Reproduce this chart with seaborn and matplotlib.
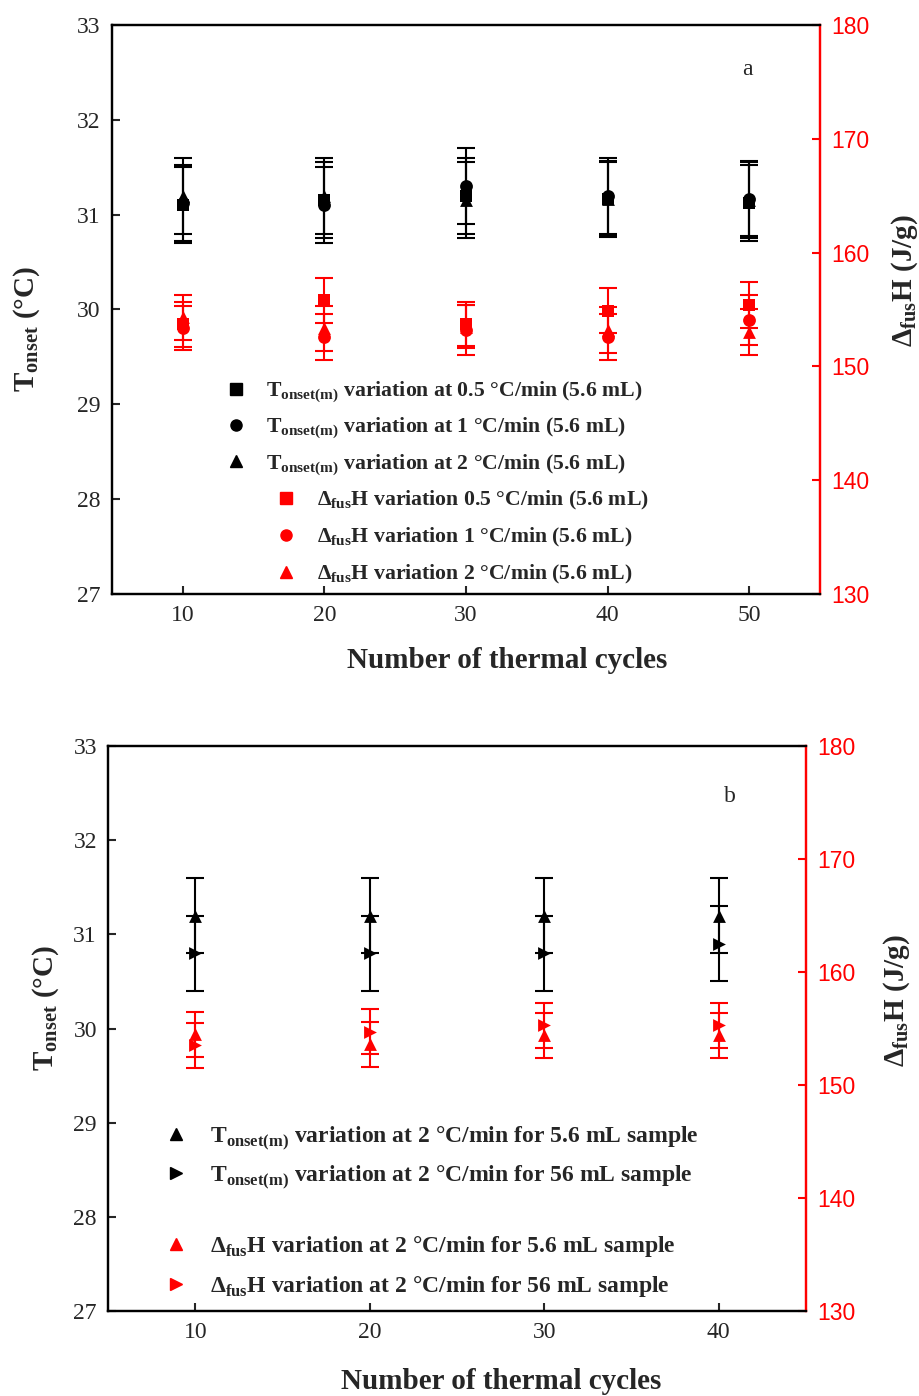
import numpy as np
import pandas as pd
import matplotlib
matplotlib.use("Agg")
import matplotlib.pyplot as plt
import seaborn as sns
from matplotlib.lines import Line2D

# Panel a: 5.6 mL sample, three heating rates
cycles_a = [10, 20, 30, 40, 50]
t_a_05 = [31.10, 31.15, 31.20, 31.16, 31.12]
t_a_1 = [31.12, 31.10, 31.30, 31.20, 31.17]
t_a_2 = [31.20, 31.20, 31.15, 31.17, 31.15]
t_a_err = [0.40, 0.40, 0.40, 0.40, 0.40]
h_a_05 = [153.7, 155.8, 153.7, 154.9, 155.4]
h_a_1 = [153.4, 152.6, 153.2, 152.6, 154.1]
h_a_2 = [154.3, 153.35, 153.5, 153.2, 153.0]
h_a_05_err = [2.0, 2.0, 1.95, 2.0, 2.0]
h_a_1_err = [1.95, 2.0, 2.2, 2.0, 2.2]
h_a_2_err = [2.0, 2.0, 1.9, 2.0, 2.0]

# Panel b: 2 C/min, 5.6 mL vs 56 mL sample
cycles_b = [10, 20, 30, 40]
t_b_small = [31.2, 31.2, 31.2, 31.2]
t_b_large = [30.8, 30.8, 30.8, 30.9]
t_b_err = [0.4, 0.4, 0.4, 0.4]
h_b_small = [154.5, 153.6, 154.4, 154.4]
h_b_large = [153.5, 154.7, 155.3, 155.3]
h_b_err = [2.0, 2.0, 2.0, 2.0]

labels_a = [r"T$_{\mathbf{onset(m)}}$ variation at 0.5 °C/min (5.6 mL)",
            r"T$_{\mathbf{onset(m)}}$ variation at 1 °C/min (5.6 mL)",
            r"T$_{\mathbf{onset(m)}}$ variation at 2 °C/min (5.6 mL)",
            r"Δ$_{\mathbf{fus}}$H variation 0.5 °C/min (5.6 mL)",
            r"Δ$_{\mathbf{fus}}$H variation 1 °C/min (5.6 mL)",
            r"Δ$_{\mathbf{fus}}$H variation 2 °C/min (5.6 mL)"]
labels_b = [r"T$_{\mathbf{onset(m)}}$ variation at 2 °C/min for 5.6 mL sample",
            r"T$_{\mathbf{onset(m)}}$ variation at 2 °C/min for 56 mL sample",
            r"Δ$_{\mathbf{fus}}$H variation at 2 °C/min for 5.6 mL sample",
            r"Δ$_{\mathbf{fus}}$H variation at 2 °C/min for 56 mL sample"]

sns.set_theme(style="ticks")
plt.rcParams['font.family'] = ['Liberation Serif', 'DejaVu Serif']
plt.rcParams['mathtext.fontset'] = 'custom'
plt.rcParams['mathtext.rm'] = 'Liberation Serif'
plt.rcParams['mathtext.bf'] = 'Liberation Serif:bold'

RED = '#ff0000'


def draw_series(ax, x, y, err, marker, color):
    ax.errorbar(x, y, yerr=err, fmt='none', ecolor=color, elinewidth=1.5,
                capsize=6.5, capthick=1.5, zorder=2)
    df = pd.DataFrame({'x': x, 'y': y})
    sns.scatterplot(data=df, x='x', y='y', marker=marker, color=color, s=85,
                    linewidth=0, ax=ax, zorder=3, legend=False)


def style_axes(ax, ax2, xlim):
    ax.set_xlim(*xlim)
    ax.set_ylim(27, 33)
    ax2.set_ylim(130, 180)
    for a in (ax, ax2):
        for s in a.spines.values():
            s.set_linewidth(1.6)
            s.set_color('black')
        a.spines['right'].set_color(RED)
    ax.tick_params(direction='in', length=6, width=1.5, labelsize=17, pad=8)
    ax2.tick_params(direction='in', length=6, width=1.5, labelsize=16.5,
                    colors=RED, pad=8)
    for t in ax2.get_yticklabels():
        t.set_fontfamily('Liberation Sans')
    ax.set_xlabel('')
    ax.set_ylabel('')
    ax2.set_ylabel('')


def marker_handle(marker, color, label):
    return Line2D([], [], linestyle='none', marker=marker, color=color,
                  markersize=8, label=label)


fig = plt.figure(figsize=(9.2, 13.96), dpi=100)

# ---- panel a ----
ax = fig.add_axes([0.1217, 0.5745, 0.7696, 0.4076])
ax2 = ax.twinx()
draw_series(ax, cycles_a, t_a_05, t_a_err, 's', 'black')
draw_series(ax, cycles_a, t_a_1, t_a_err, 'o', 'black')
draw_series(ax, cycles_a, t_a_2, t_a_err, '^', 'black')
draw_series(ax2, cycles_a, h_a_05, h_a_05_err, 's', RED)
draw_series(ax2, cycles_a, h_a_1, h_a_1_err, 'o', RED)
draw_series(ax2, cycles_a, h_a_2, h_a_2_err, '^', RED)
style_axes(ax, ax2, (5, 55))
ax.set_xticks(cycles_a)
ax.set_yticks(range(27, 34))
ax2.set_yticks(range(130, 181, 10))

leg_kw = dict(frameon=False, loc='upper left', borderpad=0,
              borderaxespad=0, handlelength=1.0, handletextpad=0.9,
              labelspacing=0.5, prop={'weight': 'bold', 'size': 15.7})
leg1 = ax2.legend(handles=[marker_handle('s', 'black', labels_a[0]),
                           marker_handle('o', 'black', labels_a[1]),
                           marker_handle('^', 'black', labels_a[2])],
                  bbox_to_anchor=(0.1597, 0.3766), **leg_kw)
ax2.add_artist(leg1)
leg_kw_red = dict(leg_kw)
leg_kw_red.update(labelspacing=0.66)
ax2.legend(handles=[marker_handle('s', RED, labels_a[3]),
                    marker_handle('o', RED, labels_a[4]),
                    marker_handle('^', RED, labels_a[5])],
           bbox_to_anchor=(0.2304, 0.1852), **leg_kw_red)

ax.text(0.898, 0.921, 'a', transform=ax.transAxes, fontsize=17,
        ha='center', va='center')
ax.text(0.558, -0.116, 'Number of thermal cycles', transform=ax.transAxes,
        fontsize=21, fontweight='bold', ha='center', va='center')
ax.text(-0.12, 0.465, r'T$_{\mathbf{onset}}$ (°C)', transform=ax.transAxes,
        fontsize=21, fontweight='bold', rotation=90, ha='center', va='center')
ax.text(1.12, 0.55, r'Δ$_{\mathbf{fus}}$H (J/g)', transform=ax.transAxes,
        fontsize=21, fontweight='bold', rotation=90, ha='center', va='center')

# ---- panel b ----
bx = fig.add_axes([0.1174, 0.0609, 0.7587, 0.4047])
bx2 = bx.twinx()
draw_series(bx, cycles_b, t_b_small, t_b_err, '^', 'black')
draw_series(bx, cycles_b, t_b_large, t_b_err, '>', 'black')
draw_series(bx2, cycles_b, h_b_small, h_b_err, '^', RED)
draw_series(bx2, cycles_b, h_b_large, h_b_err, '>', RED)
style_axes(bx, bx2, (5, 45))
bx.set_xticks(cycles_b)
bx.set_yticks(range(27, 34))
bx2.set_yticks(range(130, 181, 10))

leg_kw_b = dict(leg_kw)
leg_kw_b.update(handletextpad=0.94, labelspacing=0.47,
                prop={'weight': 'bold', 'size': 17})
leg3 = bx2.legend(handles=[marker_handle('^', 'black', labels_b[0]),
                           marker_handle('>', 'black', labels_b[1])],
                  bbox_to_anchor=(0.0805, 0.3304), **leg_kw_b)
bx2.add_artist(leg3)
leg_kw_b_red = dict(leg_kw_b)
leg_kw_b_red.update(labelspacing=0.64)
bx2.legend(handles=[marker_handle('^', RED, labels_b[2]),
                    marker_handle('>', RED, labels_b[3])],
           bbox_to_anchor=(0.0805, 0.1358), **leg_kw_b_red)

bx.text(0.891, 0.910, 'b', transform=bx.transAxes, fontsize=17,
        ha='center', va='center')
bx.text(0.564, -0.124, 'Number of thermal cycles', transform=bx.transAxes,
        fontsize=21, fontweight='bold', ha='center', va='center')
bx.text(-0.09, 0.536, r'T$_{\mathbf{onset}}$ (°C)', transform=bx.transAxes,
        fontsize=21, fontweight='bold', rotation=90, ha='center', va='center')
bx.text(1.13, 0.55, r'Δ$_{\mathbf{fus}}$H (J/g)', transform=bx.transAxes,
        fontsize=21, fontweight='bold', rotation=90, ha='center', va='center')

fig.savefig('out.png', dpi=100)
